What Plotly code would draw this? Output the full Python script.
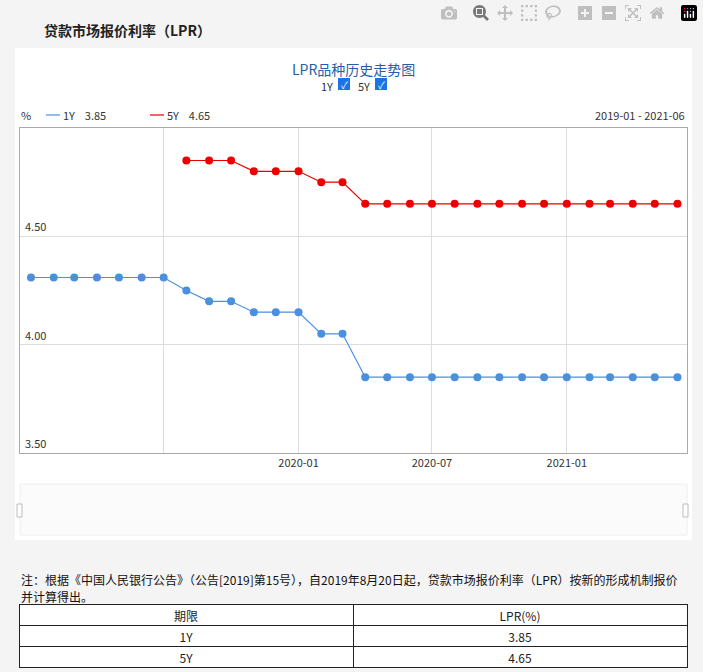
import plotly.graph_objects as go

months = ['2019-01', '2019-02', '2019-03', '2019-04', '2019-05', '2019-06', '2019-07', '2019-08',
          '2019-09', '2019-10', '2019-11', '2019-12', '2020-01', '2020-02', '2020-03', '2020-04',
          '2020-05', '2020-06', '2020-07', '2020-08', '2020-09', '2020-10', '2020-11', '2020-12',
          '2021-01', '2021-02', '2021-03', '2021-04', '2021-05', '2021-06']
lpr_1y = [4.31, 4.31, 4.31, 4.31, 4.31, 4.31, 4.31, 4.25, 4.20, 4.20, 4.15, 4.15, 4.15, 4.05, 4.05,
          3.85, 3.85, 3.85, 3.85, 3.85, 3.85, 3.85, 3.85, 3.85, 3.85, 3.85, 3.85, 3.85, 3.85, 3.85]
lpr_5y = [None] * 7 + [4.85, 4.85, 4.85, 4.80, 4.80, 4.80, 4.75, 4.75,
                       4.65, 4.65, 4.65, 4.65, 4.65, 4.65, 4.65, 4.65, 4.65,
                       4.65, 4.65, 4.65, 4.65, 4.65, 4.65]
tick_dates = ['2019-07', '2020-01', '2020-07', '2021-01']
tick_text = ['', '2020-01', '2020-07', '2021-01']
terms = ['1Y', '5Y']
latest = ['3.85', '4.65']

W, H = 703, 672
px = lambda x: x / W
py = lambda y: 1 - y / H
FONT = 'Noto Sans CJK SC'

fig = go.Figure()
fig.add_trace(go.Scatter(x=months, y=lpr_1y, mode='lines+markers', name='1Y',
                         line=dict(color='#4a90e2', width=1.2), marker=dict(size=8, color='#4a90e2')))
fig.add_trace(go.Scatter(x=months, y=lpr_5y, mode='lines+markers', name='5Y',
                         line=dict(color='#e60000', width=1.2), marker=dict(size=8, color='#ee0000')))
fig.add_trace(go.Table(
    domain=dict(x=[px(19), px(688)], y=[py(668), py(604)]),
    columnwidth=[1, 1],
    header=dict(values=['期限', 'LPR(%)'], height=21, fill_color='white',
                line_color='#222', font=dict(family=FONT, size=12, color='#222')),
    cells=dict(values=[terms, latest], height=21, fill_color='white',
               line_color='#222', font=dict(family=FONT, size=12, color='#222')),
))

shapes = [
    dict(type='rect', xref='paper', yref='paper', x0=px(15), x1=px(692), y0=py(540), y1=py(48),
         fillcolor='white', line_width=0, layer='below'),
    dict(type='rect', xref='paper', yref='paper', x0=px(20), x1=px(687), y0=py(535), y1=py(484),
         fillcolor='#fbfbfb', line=dict(color='#eeeeee', width=1), layer='below'),
    dict(type='rect', xref='paper', yref='paper', x0=px(17), x1=px(22), y0=py(517), y1=py(504),
         fillcolor='white', line=dict(color='#bbbbbb', width=1)),
    dict(type='rect', xref='paper', yref='paper', x0=px(683), x1=px(688), y0=py(517), y1=py(504),
         fillcolor='white', line=dict(color='#bbbbbb', width=1)),
    dict(type='line', xref='paper', yref='paper', x0=px(46), x1=px(60), y0=py(115), y1=py(115),
         line=dict(color='#4a90e2', width=1.2)),
    dict(type='line', xref='paper', yref='paper', x0=px(150), x1=px(164), y0=py(115), y1=py(115),
         line=dict(color='#e60000', width=1.2)),
]
for cx in (344, 381):
    shapes.append(dict(type='rect', xref='paper', yref='paper', x0=px(cx - 6), x1=px(cx + 6),
                       y0=py(90), y1=py(78), fillcolor='#1a73e8', line_width=0))

def ann(x, y, text, size=11, color='#333', anchor='left', family=FONT):
    return dict(xref='paper', yref='paper', x=px(x), y=py(y), text=text, showarrow=False,
                xanchor=anchor, yanchor='middle', font=dict(family=family, size=size, color=color))

annotations = [
    ann(42, 30, '<b>贷款市场报价利率（LPR）</b>', 14, '#222'),
    ann(353, 69, 'LPR品种历史走势图', 14, '#2a5caa', 'center'),
    ann(335, 86, '1Y', 11, '#333', 'right'),
    ann(372, 86, '5Y', 11, '#333', 'right'),
    ann(344, 84, '✓', 10, 'white', 'center'),
    ann(381, 84, '✓', 10, 'white', 'center'),
    ann(19, 115, '%', 11),
    ann(61, 115, '1Y&nbsp;&nbsp;&nbsp;&nbsp;3.85', 11),
    ann(165, 115, '5Y&nbsp;&nbsp;&nbsp;&nbsp;4.65', 11),
    ann(687, 115, '2019-01 - 2021-06', 11, '#333', 'right'),
    ann(19, 579, '注：根据《中国人民银行公告》（公告[2019]第15号），自2019年8月20日起，贷款市场报价利率（LPR）按新的形成机制报价', 12, '#111'),
    ann(19, 596, '并计算得出。', 12, '#111'),
]
for v in ('3.50', '4.00', '4.50'):
    annotations.append(dict(xref='paper', yref='y', x=px(23), y=float(v), text=v, showarrow=False,
                            xanchor='left', yanchor='bottom', font=dict(family=FONT, size=11, color='#333')))

fig.update_layout(
    width=W, height=H, margin=dict(l=0, r=0, t=0, b=0),
    paper_bgcolor='#f4f4f4', plot_bgcolor='white', showlegend=False,
    shapes=shapes, annotations=annotations,
    xaxis=dict(domain=[px(20), px(687)], type='date', range=['2018-12-17', '2021-06-14'],
               tickvals=tick_dates, ticktext=tick_text, showgrid=True, gridcolor='#dddddd',
               showline=True, linecolor='#aaaaaa', mirror=True, ticks='', zeroline=False,
               tickfont=dict(family=FONT, size=11, color='#333')),
    yaxis=dict(domain=[py(453), py(128)], range=[3.5, 5.0], tickvals=[3.5, 4.0, 4.5],
               showticklabels=False, showgrid=True, gridcolor='#dddddd',
               showline=True, linecolor='#aaaaaa', mirror=True, zeroline=False),
)
fig.write_html('out.html', post_script='document.body.style.margin="0px";document.body.style.overflow="hidden";')
